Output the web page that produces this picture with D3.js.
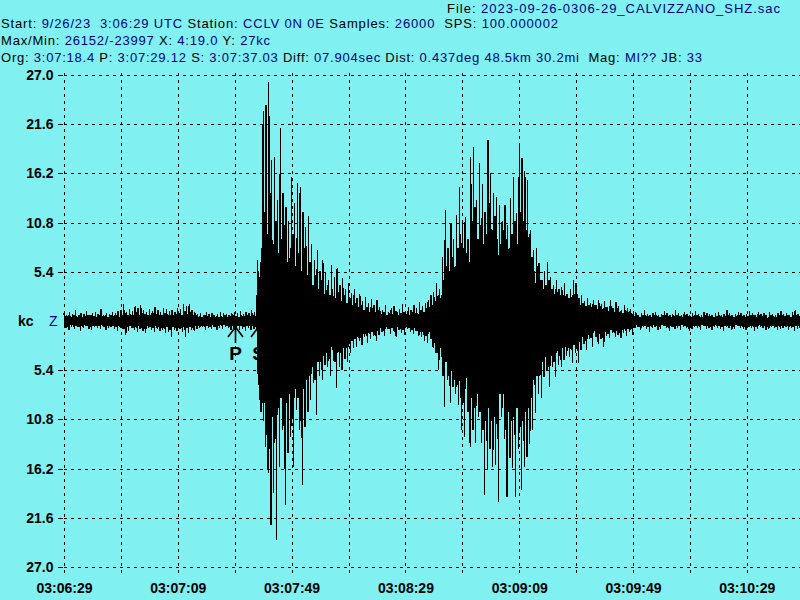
<!DOCTYPE html>
<html><head><meta charset="utf-8">
<script src="https://cdn.jsdelivr.net/npm/d3@7"></script>
<style>html,body{margin:0;padding:0;background:#80f0f0;overflow:hidden}svg{display:block}text{white-space:pre}</style>
</head><body><svg id="c" width="800" height="600"></svg>
<script>
// ---- data ----
const timeLabels = ["03:06:29","03:07:09","03:07:49","03:08:29","03:09:09","03:09:49","03:10:29"];
const labelSeconds = [0,40,80,120,160,200,240];
const gridSeconds = [0,20,40,60,80,100,120,140,160,180,200,220,240];
const yTicks = [27.0,21.6,16.2,10.8,5.4,-5.4,-10.8,-16.2,-21.6,-27.0];
// per-second peak values (kc), t = 0..259 s after 03:06:29
const peakMax = [
0.9,0.7,1.0,0.8,1.2,0.7,0.9,0.8,1.1,0.7,0.9,1.0,0.8,1.3,0.7,0.9,0.8,1.0,0.9,1.1,
1.2,1.9,1.0,1.3,1.1,1.6,1.4,1.7,1.2,1.0,1.3,1.1,1.5,1.2,1.0,1.4,1.3,1.1,1.2,1.0,1.4,1.3,1.9,1.6,1.9,1.2,1.0,
0.8,0.9,0.7,1.0,0.8,0.9,0.7,0.8,1.0,0.9,0.8,0.7,0.9,1.0,0.9,1.1,0.8,1.0,0.9,1.2,1.0,
6.7,6.5,23.0,23.7,26.2,17.7,18.0,13.3,21.2,14.0,12.5,11.0,15.8,13.0,15.2,14.7,12.0,10.3,11.5,8.5,6.7,7.8,5.5,6.7,5.3,4.5,6.1,4.8,5.8,4.0,4.7,3.5,4.2,3.1,3.5,2.5,3.0,2.2,2.6,2.0,2.4,1.8,2.3,
1.5,1.2,1.8,1.0,1.4,1.6,1.1,1.3,1.9,1.0,1.5,1.2,1.7,1.4,
2.1,1.6,2.0,2.3,2.8, 3.2,4.2,3.5,7.0,12.2, 8.0,10.7,9.0,11.6,14.7, 11.0,11.4,9.0,18.0,19.1, 13.3,17.3,15.0,12.0,19.9,
16.2,14.0,13.6,12.7,11.0, 12.7,10.5,13.5,15.8,11.9, 19.5,17.9,16.5,15.5,10.0, 7.8,8.0,6.4,4.5,5.5, 6.5,4.8,4.0,4.5,3.5,
3.7,4.2,3.0,3.5,4.5, 4.2,2.5,2.8,2.2,2.5, 2.0,2.3,1.7,2.3,1.9, 2.2,1.5,2.3,1.4,2.1, 1.6,1.2,1.8,1.4,1.3,
0.8,1.0,0.7,0.9,1.2,0.8,0.6,0.9,1.0,0.7, 0.8,1.1,0.9,0.7,0.8,1.2,0.9,0.7,1.0,0.8,
0.6,0.9,1.1,0.8,0.7,1.0,0.9,0.8,0.6,0.9, 1.0,0.7,0.8,1.2,0.9,0.7,0.8,1.0,0.9,0.6,
0.8,1.1,0.9,0.7,1.0,0.8,0.9,0.7,1.0,0.8, 0.7,0.9,1.1,0.8,0.9,0.7,1.0,1.2,0.8,0.9
];
const peakMin = [
-0.8,-1.0,-0.6,-0.9,-0.7,-1.1,-0.8,-0.6,-0.9,-1.0,-0.7,-0.8,-0.9,-0.6,-1.0,-0.8,-0.7,-0.9,-1.1,-0.8,
-0.9,-1.5,-1.1,-0.8,-1.0,-1.2,-0.9,-1.1,-1.3,-0.8,-1.0,-1.2,-0.9,-1.1,-1.0,-1.3,-1.2,-1.7,-1.0,-1.1,-0.9,-1.2,-1.7,-1.3,-1.0,-1.1,-0.9,
-0.8,-0.7,-1.0,-0.8,-0.9,-0.7,-1.0,-0.8,-0.9,-0.7,-0.8,-1.0,-0.9,-0.8,-1.0,-0.9,-1.1,-0.8,-1.0,-0.9,-1.1,
-8.7,-9.0,-13.8,-16.7,-22.4,-18.9,-24.0,-16.0,-12.0,-20.2,-14.5,-12.7,-16.0,-9.8,-12.0,-18.0,-11.6,-10.0,-8.7,-6.8,-10.3,-6.0,-6.5,-4.8,-5.0,-6.0,-4.4,-7.4,-5.0,-5.4,-4.2,-4.5,-3.5,-3.0,-2.8,-2.2,-2.6,-1.8,-2.4,-2.0,-1.6,-2.2,-1.5,
-1.2,-1.6,-0.9,-1.4,-1.1,-1.8,-1.0,-1.3,-1.5,-0.9,-1.2,-1.4,-1.1,-1.6,
-1.8,-2.2,-2.4,-2.0,-3.0, -3.5,-5.4,-4.0,-9.4,-6.5, -9.0,-7.2,-8.0,-9.2,-12.0, -12.7,-10.0,-13.8,-12.0,-13.4, -10.5,-13.4,-19.1,-16.4,-14.0,
-16.0,-15.8,-19.9,-10.5,-13.0, -19.3,-15.0,-16.1,-19.3,-14.0, -18.5,-16.0,-14.9,-13.5,-12.0, -10.1,-8.0,-8.5,-6.1,-5.5, -7.2,-5.0,-6.2,-4.8,-5.0,
-4.3,-3.8,-4.0,-4.6,-3.5, -4.6,-3.2,-2.5,-3.2,-2.0, -2.8,-1.8,-2.5,-2.0,-2.8, -1.6,-1.9,-1.3,-1.7,-1.5, -1.9,-1.3,-1.6,-1.2,-1.5,
-0.8,-0.6,-1.0,-0.7,-0.9,-1.2,-0.8,-0.7,-1.0,-0.9, -0.6,-0.8,-1.1,-0.7,-0.9,-0.8,-1.0,-0.7,-0.8,-1.1,
-0.9,-0.7,-0.8,-1.0,-0.6,-0.9,-0.8,-1.0,-0.7,-0.8, -0.9,-1.1,-0.7,-0.8,-1.0,-0.9,-0.6,-0.8,-0.9,-1.0,
-0.7,-0.8,-1.1,-0.9,-0.7,-0.8,-1.0,-0.9,-0.7,-0.8, -1.0,-0.9,-0.8,-0.7,-1.0,-0.8,-1.1,-0.9,-0.8,-1.2
];
// secondary (inner) swings per second, forming the dense body of the trace
const innerHigh = [
0.5,0.6,0.4,0.7,0.5,0.6,0.4,0.5,0.7,0.6,0.5,0.4,0.6,0.5,0.7,0.4,0.6,0.5,0.6,0.4,
0.7,0.9,0.6,0.8,0.7,1.0,0.6,0.9,0.8,0.6,0.7,0.9,0.8,0.6,0.7,0.9,0.8,0.7,0.6,0.8,0.9,0.7,1.1,0.8,1.0,0.7,0.6,
0.5,0.4,0.6,0.5,0.4,0.6,0.5,0.4,0.5,0.6,0.4,0.5,0.6,0.5,0.4,0.6,0.5,0.7,0.5,0.6,0.5,
5.5,8.0,12.0,9.5,14.0,8.5,11.0,7.5,9.0,10.5, 6.5,8.0,9.5,6.0,7.5,5.5,8.0,5.0,6.5,4.0,
5.0,3.5,4.5,3.0,4.0,2.8,3.5,2.5,3.2,2.2, 2.8,2.0,2.5,1.8,2.0,1.5,1.8,1.2,1.5,1.0, 1.4,1.0,1.2,
0.8,1.0,0.7,0.9,0.8,1.1,0.7,0.9,1.0,0.8,0.7,1.0,0.9,0.8,
1.2,1.0,1.4,1.5,1.8, 2.2,2.8,2.5,4.5,6.0, 5.5,7.0,6.0,8.0,9.5, 8.0,7.5,6.5,11.0,12.5, 9.0,10.5,8.5,9.5,13.0,
10.0,11.5,9.0,8.5,10.0, 9.0,8.0,9.5,11.0,8.5, 12.0,11.0,10.0,9.5,7.0, 5.5,6.0,4.5,3.5,4.0, 4.5,3.5,3.0,3.2,2.8,
2.8,3.0,2.5,2.6,3.0, 3.0,1.8,2.0,1.6,1.8, 1.5,1.7,1.3,1.6,1.4, 1.5,1.1,1.6,1.0,1.4, 1.1,0.9,1.2,1.0,0.9,
0.5,0.6,0.4,0.6,0.7,0.5,0.4,0.6,0.5,0.4, 0.6,0.7,0.5,0.4,0.5,0.6,0.5,0.4,0.6,0.5,
0.4,0.6,0.7,0.5,0.4,0.6,0.5,0.6,0.4,0.5, 0.6,0.4,0.5,0.7,0.6,0.4,0.5,0.6,0.5,0.4,
0.5,0.7,0.6,0.4,0.6,0.5,0.6,0.4,0.6,0.5, 0.4,0.6,0.7,0.5,0.6,0.4,0.6,0.7,0.5,0.6
];
const innerLow = [
-0.5,-0.6,-0.4,-0.6,-0.5,-0.7,-0.5,-0.4,-0.6,-0.7,-0.5,-0.6,-0.5,-0.4,-0.7,-0.5,-0.6,-0.5,-0.7,-0.5,
-0.6,-0.9,-0.7,-0.6,-0.8,-0.7,-0.6,-0.8,-0.9,-0.6,-0.7,-0.8,-0.6,-0.7,-0.8,-0.9,-0.7,-1.0,-0.7,-0.8,-0.6,-0.8,-1.0,-0.8,-0.7,-0.8,-0.6,
-0.5,-0.5,-0.6,-0.5,-0.6,-0.4,-0.6,-0.5,-0.6,-0.4,-0.5,-0.6,-0.6,-0.5,-0.6,-0.5,-0.7,-0.5,-0.6,-0.6,-0.7,
-7.0,-10.0,-11.0,-12.5,-14.0,-10.5,-13.0,-9.5,-8.5,-11.5, -9.0,-8.0,-10.5,-7.5,-8.5,-11.0,-7.5,-6.5,-6.0,-5.0,
-6.5,-4.5,-4.5,-3.8,-3.5,-4.2,-3.2,-4.5,-3.5,-3.5, -3.0,-3.0,-2.5,-2.2,-2.0,-1.8,-1.9,-1.4,-1.7,-1.4, -1.2,-1.5,-1.1,
-0.8,-1.1,-0.7,-0.9,-0.8,-1.2,-0.7,-0.9,-1.0,-0.7,-0.8,-1.0,-0.8,-1.1,
-1.2,-1.5,-1.6,-1.4,-2.0, -2.4,-3.5,-3.0,-6.0,-4.5, -6.0,-5.5,-6.5,-7.0,-8.5, -9.0,-7.5,-10.0,-8.5,-9.5, -8.0,-10.0,-12.0,-11.0,-9.5,
-11.0,-10.5,-13.0,-8.0,-9.5, -12.0,-10.0,-11.0,-12.5,-9.5, -12.0,-11.0,-10.0,-9.5,-8.5, -7.0,-6.0,-6.0,-4.5,-4.0, -5.0,-3.8,-4.5,-3.5,-3.8,
-3.0,-2.8,-3.0,-3.2,-2.6, -3.0,-2.3,-1.8,-2.2,-1.5, -1.9,-1.3,-1.7,-1.4,-1.9, -1.2,-1.4,-1.0,-1.2,-1.1, -1.3,-1.0,-1.1,-0.9,-1.0,
-0.5,-0.4,-0.6,-0.5,-0.6,-0.7,-0.5,-0.4,-0.6,-0.6, -0.4,-0.5,-0.7,-0.5,-0.6,-0.5,-0.6,-0.4,-0.5,-0.7,
-0.6,-0.5,-0.5,-0.6,-0.4,-0.6,-0.5,-0.7,-0.5,-0.5, -0.6,-0.7,-0.5,-0.5,-0.6,-0.6,-0.4,-0.5,-0.6,-0.7,
-0.5,-0.5,-0.7,-0.6,-0.5,-0.5,-0.6,-0.6,-0.5,-0.5, -0.7,-0.6,-0.5,-0.5,-0.6,-0.5,-0.7,-0.6,-0.5,-0.8
];
const pickLabels = ["P","S"];
const pickSeconds = [60.12, 68.03];
// header text: [text, isValue]
const fileLine = [["File: ",0],["2023-09-26-0306-29_CALVIZZANO_SHZ.sac",1]];
const startLine = [["Start: ",0],["9/26/23  3:06:29 UTC",1],[" Station: ",0],["CCLV 0N 0E",1],[" Samples: ",0],["26000",1],["  SPS: ",0],["100.000002",1]];
const maxLine = [["Max/Min: ",0],["26152/-23997",1],[" X: ",0],["4:19.0",1],[" Y: ",0],["27kc",1]];
const orgLine = [["Org: ",0],["3:07:18.4",1],[" P: ",0],["3:07:29.12",1],[" S: ",0],["3:07:37.03",1],[" Diff: ",0],["07.904sec",1],[" Dist: ",0],["0.437deg 48.5km 30.2mi",1],["  Mag: ",0],["MI??",1],[" JB: ",0],["33",1]];

// ---- drawing ----
const BG = "#80f0f0", BLUE = "#000080";
const FONT = "Liberation Sans, Arial, sans-serif";
const svg = d3.select("#c");
svg.append("rect").attr("width",800).attr("height",600).attr("fill",BG);

const x = d3.scaleLinear().domain([0,260]).range([64, 803.7]);
const y = d3.scaleLinear().domain([-27,27]).range([567, 75]);

// header
function header(segs, x0, yb, len){
  const t = svg.append("text").attr("x",x0).attr("y",yb)
    .attr("font-family",FONT).attr("font-size",13)
    .attr("textLength",len).attr("lengthAdjust","spacing");
  segs.forEach(s=>t.append("tspan").attr("fill", s[1]?BLUE:"#000").text(s[0]));
}
header(fileLine, 447, 13, 333);
header(startLine, 1, 28, 557);
header(maxLine, 1, 45, 269);
header(orgLine, 1, 62, 701);

// grid
const grid = svg.append("g").attr("stroke","#000").attr("stroke-width",1).attr("stroke-dasharray","3,4")
  .attr("shape-rendering","crispEdges");
grid.selectAll("line.v").data(gridSeconds).join("line").attr("class","v")
  .attr("x1",d=>Math.round(x(d))+0.5).attr("x2",d=>Math.round(x(d))+0.5).attr("y1",73).attr("y2",576);
grid.selectAll("line.h").data(yTicks).join("line").attr("class","h")
  .attr("x1",64).attr("x2",800).attr("y1",d=>Math.round(y(d))+0.5).attr("y2",d=>Math.round(y(d))+0.5);

// y axis
const ya = svg.append("g").attr("transform","translate(62.5,0)")
  .call(d3.axisLeft(y).tickValues(yTicks).tickSize(5).tickPadding(4).tickFormat(d=>Math.abs(d).toFixed(1)));
ya.select(".domain").remove();
ya.selectAll("text").attr("font-family",FONT).attr("font-size",14).attr("font-weight","bold").attr("fill","#000");
ya.selectAll("line").attr("stroke","#000").attr("shape-rendering","crispEdges");
ya.selectAll(".tick").attr("transform",d=>`translate(0,${Math.round(y(d))+0.5})`);

// x axis
const xa = svg.append("g").attr("transform","translate(0,575)")
  .call(d3.axisBottom(x).tickValues(labelSeconds).tickSize(0).tickPadding(8).tickFormat((d,i)=>timeLabels[i]));
xa.select(".domain").remove();
xa.selectAll("text").attr("font-family",FONT).attr("font-size",14).attr("font-weight","bold").attr("fill","#000");

// channel label
svg.append("text").attr("x",18).attr("y",y(0)+5).attr("font-family",FONT)
  .attr("font-size",14).attr("font-weight","bold").attr("fill","#000").text("kc");
svg.append("text").attr("x",49).attr("y",y(0)+5).attr("font-family",FONT)
  .attr("font-size",14).attr("fill",BLUE).text("Z");

// picks
const pk = svg.append("g");
pickSeconds.forEach((t,i)=>{
  const px = Math.round(x(t))+0.5, py = y(0)+6;
  pk.append("path").attr("d",`M${px},${py} L${px-7.5},${py+10} M${px},${py} L${px+7.5},${py+10} M${px},${py} L${px},${py+16}`)
    .attr("stroke","#000").attr("stroke-width",1.6).attr("fill","none");
  pk.append("text").attr("x",px).attr("y",py+33).attr("text-anchor","middle")
    .attr("font-family",FONT).attr("font-size",19).attr("font-weight","bold")
    .attr("fill","#000").text(pickLabels[i]);
});

// trace: each second swings max -> inner low -> inner high -> min
const pts = [];
peakMax.forEach((v,i)=>{
  pts.push([i, v]);
  pts.push([i+0.25, innerLow[i]]);
  pts.push([i+0.5, innerHigh[i]]);
  pts.push([i+0.75, peakMin[i]]);
});
svg.append("path").datum(pts)
  .attr("d", d3.line().x(d=>x(d[0])).y(d=>y(d[1])))
  .attr("fill","none").attr("stroke","#000").attr("stroke-width",1.2)
  .attr("shape-rendering","crispEdges");
</script></body></html>
